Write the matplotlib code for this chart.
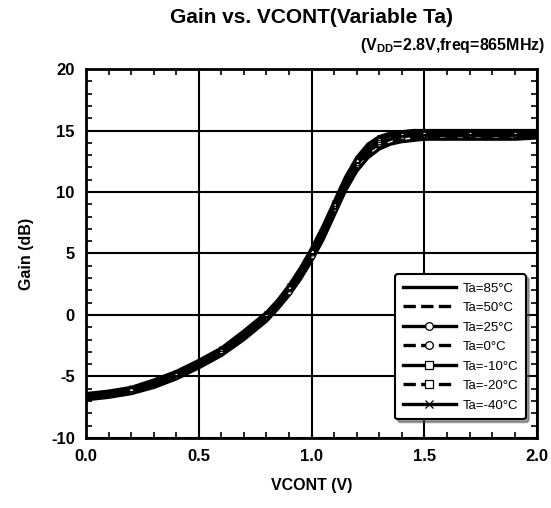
import matplotlib
matplotlib.use("Agg")
import matplotlib.pyplot as plt
from matplotlib.ticker import MultipleLocator

plt.rcParams['font.family'] = ['Liberation Sans', 'DejaVu Sans']
plt.rcParams['axes.unicode_minus'] = False

# VCONT sweep (V)
vcont = [0.0, 0.1, 0.2, 0.3, 0.4, 0.5, 0.6, 0.7, 0.8, 0.85, 0.9, 0.95, 1.0, 1.05,
         1.1, 1.15, 1.2, 1.25, 1.3, 1.35, 1.4, 1.45, 1.5, 1.6, 1.7, 1.8, 1.9, 2.0]

# gain (dB) per ambient temperature
gain_85 = [-6.9, -6.7, -6.4, -5.9, -5.2, -4.3, -3.3, -2.0, -0.5, 0.5, 1.6, 2.9, 4.4, 6.1,
           8.1, 10.1, 11.7, 12.8, 13.5, 13.9, 14.1, 14.2, 14.3, 14.3, 14.3, 14.3, 14.3, 14.4]
gain_50 = [-6.8, -6.6, -6.3, -5.8, -5.1, -4.2, -3.2, -1.9, -0.4, 0.6, 1.7, 3.1, 4.6, 6.3,
           8.3, 10.3, 11.9, 13.0, 13.7, 14.1, 14.3, 14.4, 14.4, 14.4, 14.4, 14.4, 14.4, 14.5]
gain_25 = [-6.7, -6.5, -6.2, -5.7, -5.0, -4.1, -3.1, -1.8, -0.2, 0.8, 1.9, 3.3, 4.8, 6.6,
           8.6, 10.6, 12.2, 13.3, 13.9, 14.3, 14.5, 14.6, 14.6, 14.6, 14.6, 14.6, 14.6, 14.6]
gain_0 = [-6.6, -6.4, -6.1, -5.6, -4.9, -4.0, -3.0, -1.6, -0.1, 0.9, 2.1, 3.5, 5.0, 6.8,
          8.8, 10.8, 12.4, 13.5, 14.1, 14.5, 14.6, 14.7, 14.7, 14.7, 14.7, 14.7, 14.7, 14.7]
gain_m10 = [-6.6, -6.4, -6.0, -5.5, -4.8, -3.9, -2.9, -1.5, 0.0, 1.0, 2.2, 3.6, 5.1, 6.9,
            8.9, 10.9, 12.5, 13.6, 14.2, 14.6, 14.7, 14.8, 14.8, 14.8, 14.8, 14.8, 14.8, 14.8]
gain_m20 = [-6.5, -6.3, -6.0, -5.4, -4.7, -3.8, -2.8, -1.4, 0.1, 1.1, 2.3, 3.7, 5.2, 7.0,
            9.0, 11.0, 12.6, 13.7, 14.4, 14.7, 14.8, 14.9, 14.9, 14.9, 14.9, 14.9, 14.9, 14.9]
gain_m40 = [-6.4, -6.2, -5.9, -5.3, -4.6, -3.7, -2.7, -1.3, 0.2, 1.2, 2.4, 3.8, 5.4, 7.2,
            9.2, 11.2, 12.8, 13.9, 14.5, 14.8, 14.9, 15.0, 15.0, 15.0, 15.0, 15.0, 15.0, 15.0]

labels = ["Ta=85°C", "Ta=50°C", "Ta=25°C", "Ta=0°C", "Ta=-10°C", "Ta=-20°C", "Ta=-40°C"]
series = [gain_85, gain_50, gain_25, gain_0, gain_m10, gain_m20, gain_m40]
styles = [("-", None), ("--", None), ("-", "o"), ("--", "o"),
          ("-", "s"), ("--", "s"), ("-", "x")]

fig = plt.figure(figsize=(5.51, 5.08), dpi=100)
ax = fig.add_axes([0.156, 0.138, 0.819, 0.726])

for g, lab, (ls, mk) in zip(series, labels, styles):
    ax.plot(vcont, g, color="black", linestyle=ls, linewidth=2.4, marker=mk,
            markersize=3.5, markerfacecolor="white", markeredgecolor="black",
            markeredgewidth=0.9, markevery=2, label=lab)

ax.set_xlim(0, 2.0)
ax.set_ylim(-10, 20)
ax.xaxis.set_major_locator(MultipleLocator(0.5))
ax.xaxis.set_minor_locator(MultipleLocator(0.1))
ax.yaxis.set_major_locator(MultipleLocator(5))
ax.yaxis.set_minor_locator(MultipleLocator(1))
ax.xaxis.set_major_formatter(matplotlib.ticker.FormatStrFormatter("%.1f"))
ax.grid(True, which="major", color="black", linewidth=1.5)
ax.tick_params(which="both", direction="in", top=True, right=True)
ax.tick_params(which="major", length=0, labelsize=12, pad=8)
ax.tick_params(which="minor", length=4, width=1.2)
for lbl in ax.get_xticklabels() + ax.get_yticklabels():
    lbl.set_fontweight("bold")
for sp in ax.spines.values():
    sp.set_linewidth(2)

ax.set_xlabel("VCONT (V)", fontsize=11.5, fontweight="bold", labelpad=10)
ax.set_ylabel("Gain (dB)", fontsize=11.5, fontweight="bold", labelpad=12)

fig.text(0.566, 0.965, "Gain vs. VCONT(Variable Ta)", ha="center", va="center",
         fontsize=15, fontweight="bold")
fig.text(0.99, 0.91, r"(V$_{\mathregular{DD}}$=2.8V,freq=865MHz)", ha="right",
         va="center", fontsize=11.5, fontweight="bold")

leg = ax.legend(loc="lower right", bbox_to_anchor=(0.975, 0.05), borderaxespad=0,
                fontsize=9.5, handlelength=4.0, handletextpad=0.5, frameon=True,
                fancybox=True, shadow=True, framealpha=1, edgecolor="black",
                borderpad=0.6, labelspacing=0.55)
leg.get_frame().set_linewidth(1.5)
for h in leg.legend_handles:
    h.set_markersize(5.5)

fig.savefig("out.png", dpi=100)
